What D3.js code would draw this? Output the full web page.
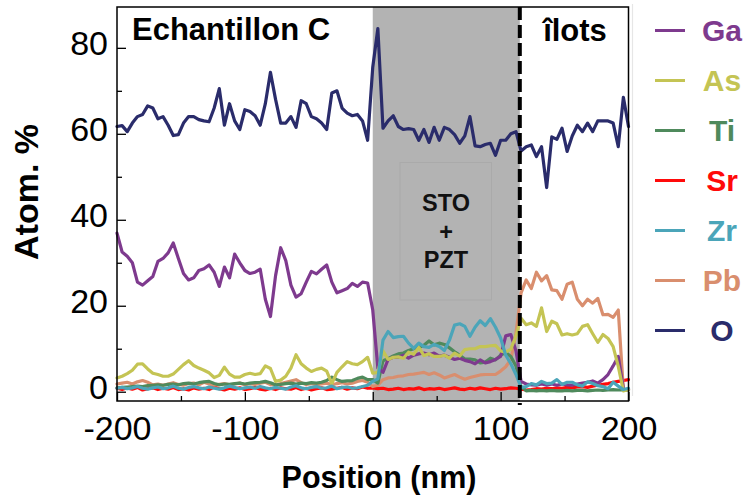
<!DOCTYPE html>
<html><head><meta charset="utf-8">
<script src="https://cdn.jsdelivr.net/npm/d3@7"></script>
<style>body{margin:0;background:#fff}svg{display:block}text{font-family:Arial,"Liberation Sans",sans-serif}</style>
</head><body><svg id="c" width="747" height="497"></svg>
<script>
// ---------- data ----------
const positions = [-200,-196,-192,-188,-184,-180,-176,-172,-168,-164,-160,-156,-152,-148,-144,-140,-136,-132,-128,-124,-120,-116,-112,-108,-104,-100,-96,-92,-88,-84,-80,-76,-72,-68,-64,-60,-56,-52,-48,-44,-40,-36,-32,-28,-24,-20,-16,-12,-8,-4,
0,4,8,12,16,20,24,28,32,36,40,44,48,52,56,60,64,68,72,76,80,84,88,92,96,100,104,108,112,
116,120,124,128,132,136,140,144,148,152,156,160,164,168,172,176,180,184,188,192,196,200];

const Ga = [36.9,32.5,31.5,30,25.5,24.8,25.8,26.8,30.3,31,32.3,34.6,31,27.5,26,26.5,28.2,28.6,29.5,27.8,24.5,29,26.5,32,30,28.2,27.5,27.8,28.5,21.5,17.5,27,33.5,30.5,24.8,22,22.8,25.5,28,27.4,28.5,29.5,25.5,23,23.5,24,25.2,24.5,25.5,25.3,
19,5.5,4.5,7.5,8,8,8.5,7.8,8.5,8.8,9,8.6,9,8.3,8.5,8,7.5,7.8,7.3,7,6.5,7.4,6.7,7,7.5,8.2,13,13.3,9.5,
2.4,1.8,1.6,1.5,1.8,1.5,1.8,1.5,1.8,1.6,1.5,1.8,2,2.2,2.5,2,2.8,4,6,8.2,0.8,0.5];

const As = [3.2,3.6,4.2,5,6.4,6.5,5.3,4.3,4,3.6,3.6,4.1,5.2,6.3,7.2,6.1,5.5,5,4.4,3.3,3.8,5.7,4.1,3.4,3.4,4,4.3,4,4.2,6,5.4,2.4,2.7,3.6,5.5,8.6,6.5,5.5,4.7,5.2,5.5,4.8,1.9,4.5,5.8,7,6.5,6.3,7,8,
4.3,4.5,9.5,7.5,8,8.1,7.8,9.2,8.7,10.3,8.4,8.8,8.2,8.2,8.5,7.8,9,8.3,9.8,10,10,10.5,10.5,10.7,10.8,9.5,9.2,9.9,13,
17.1,15.6,16,15.2,19.5,14,16.4,15.8,13.2,13.5,13.2,13.5,15.2,15.6,13.5,11.5,13.3,12.4,10.5,5.9,0.2,0.5];

const Ti = [0.9,1,1.1,1.2,1.3,1.2,1.4,1.5,1.6,1.5,1.7,1.8,1.6,1.9,2,1.8,2.1,2.3,2.4,1.9,1.6,1.8,1.7,1.9,2,1.8,2,2.1,2.2,2.4,2.1,1.6,1.7,1.9,2,1.8,2,1.9,2.1,2,2.2,2.6,3.4,2.8,2.4,2.5,2.6,3.1,3.4,2.8,
2.8,2,7.2,7.7,8.3,8.8,9,9.6,10,10.3,10.8,11.8,10.9,11.3,11,10.2,9.3,8.5,7.6,7.6,7.4,6.7,6.9,7.8,7.4,8.5,9.1,8.2,6,
1.2,0.2,0.3,0.2,0.3,0.2,0.3,0.2,0.2,0.3,0.2,0.3,0.3,0.2,0.3,0.4,0.3,0.4,0.5,0.4,0.5,0.4];

const Sr = [0.8,0.5,0.9,0.6,1,0.4,0.7,0.9,0.5,0.8,0.6,1,0.5,0.7,0.4,0.9,0.6,0.8,0.5,1.1,0.7,0.4,0.8,0.6,0.9,0.5,0.7,1,0.6,0.4,0.8,0.5,0.9,0.7,0.6,1,0.5,0.8,0.4,0.7,0.9,0.5,0.6,0.8,1,0.6,0.9,0.7,1.1,0.8,
0.9,0.7,0.8,0.5,0.6,0.8,0.5,0.7,0.6,0.9,0.5,0.7,0.6,0.8,0.5,0.7,0.9,0.6,0.5,0.8,0.6,0.9,0.7,0.5,0.8,0.6,0.7,0.9,0.8,
0.6,0.4,0.5,0.7,0.6,0.8,0.7,0.9,0.8,1,0.9,1.1,1.2,1,1.3,1.5,1.7,1.9,2.2,2.4,2.6,2.8];

const Zr = [0.8,1,0.7,0.9,1.2,0.8,0.6,0.9,1.1,0.7,0.9,1.3,0.8,0.6,1,1.2,0.9,0.7,1.1,0.8,0.6,0.9,1.3,1,0.7,0.9,1.1,0.8,1.2,0.9,0.7,1,0.8,0.6,1.1,1.4,0.9,0.7,1,1.2,0.8,0.9,1.3,0.7,1,1.1,0.8,0.9,1.2,1.5,
2.4,3,12,14,12.6,12.8,12.9,11.3,10.1,11.3,10.5,10.3,11,10.5,9.6,12,15.5,15.8,15.2,12.9,15,16.5,15.4,17,15,12.5,8.5,6.5,4,
1,1.2,1.9,1.6,2.4,1.9,2,2.8,1.7,2.2,2.2,1.6,1.3,2.3,1.9,1.4,1.2,0.7,2.2,1.3,0.5,0.8];

const Pb = [1.8,2,2.2,1.8,2.3,2.6,2.2,1.6,1.8,1.5,1.8,2.1,1.7,1.5,1.9,2,1.6,2.2,1.8,1.5,1.7,1.9,1.6,1.8,2,1.6,1.9,1.7,2,2.2,1.7,1.5,1.9,2.2,2.5,2.8,2.1,1.7,1.9,1.6,1.8,2,1.6,1.9,2.1,1.8,2,2.4,2.6,2.2,
1.2,1.5,2.8,3.2,3.3,3.6,3.7,4,4.1,4.3,4.5,4,4.4,3.9,3.2,3.6,4,3.4,2.9,3.3,3.6,3.9,4,4,4,4.8,5.8,7.5,13.6,
23,26,24,27.8,25.8,27,23.7,23.5,21.5,25,25.5,21.5,20,21.5,20.6,21.7,17.9,18,17.3,19,0.3,0.5];

const O = [61.7,61.9,60.5,62.5,64,64.5,66.5,66,63.5,64,62,59.6,59.8,62.5,64,64,63.3,63,62.8,66,70.5,62,67,63,61,65.6,65.2,64.2,62,67,74.3,68,62.5,62.5,64,61.5,67.7,67,64,63.5,62.5,61,69.5,70,66,64.8,64.2,64.5,63,58.5,
75.5,84.5,61.3,63,64.2,61.7,61,61.2,61,58.5,61,58,61.5,58.5,61.5,61,59.8,57.8,59.5,64,57.2,57,57.5,57.8,55,58.5,58.5,60,60.5,
56,57,57.4,54.7,57,47.5,59.3,58.7,61.3,55.9,59.5,62,60.5,62.5,60.5,63,63,63,62.5,57,68.5,61.7];

const seriesNames  = ["Ga","As","Ti","Sr","Zr","Pb","O"];
const seriesValues = [Ga, As, Ti, Sr, Zr, Pb, O];
const seriesColors = ["#7e3a8e","#c4c454","#4f8a5c","#ff0a0a","#4ba5b9","#d98e6e","#2a2c6b"];
const drawOrder    = ["Sr","Pb","Ti","Ga","As","Zr","O"];

const xTicks = [-200,-100,0,100,200];
const xMinorTicks = [-150,-50,50,150];
const yTicks = [0,20,40,60,80];
const yMinorTicks = [10,30,50,70];
const regionStart = 0, regionEnd = 115;   // STO + PZT zone, interface at 115 nm

const title = "Echantillon C";
const islandLabel = "îlots";
const zoneLabel = ["STO","+","PZT"];
const xTitle = "Position (nm)";
const yTitle = "Atom. %";

// ---------- drawing ----------
const svg = d3.select("#c");
const L = 117, R = 628.5, T = 7, B = 401;
const x = d3.scaleLinear().domain([-200,200]).range([L,R]);
const y = d3.scaleLinear().domain([-2.16,89.5]).range([B,T]);

// shaded region
svg.append("rect").attr("x",x(regionStart)).attr("y",T)
  .attr("width",x(regionEnd)-x(regionStart)).attr("height",B-T).attr("fill","#b3b3b3");

// inner label box
svg.append("rect").attr("x",400).attr("y",162.5).attr("width",91.5).attr("height",137.5)
  .attr("fill","none").attr("stroke","#a9a9a9").attr("stroke-width",0.8);
svg.append("g").selectAll("text").data(zoneLabel).join("text")
  .attr("x",446).attr("y",(d,i)=>211+i*28.6).attr("text-anchor","middle")
  .attr("font-size",23.5).attr("font-weight","bold").attr("fill","#111").text(d=>d);

// faint separator left of legend
svg.append("line").attr("x1",632.5).attr("x2",632.5).attr("y1",4).attr("y2",396)
  .attr("stroke","#e6e6e6").attr("stroke-width",1.2);

// series lines
const line = d3.line().x((d,i)=>x(positions[i])).y(d=>y(d));
drawOrder.forEach(name=>{
  const k = seriesNames.indexOf(name);
  svg.append("path").datum(seriesValues[k]).attr("d",line)
    .attr("fill","none").attr("stroke",seriesColors[k]).attr("stroke-width",3.2)
    .attr("stroke-linejoin","round").attr("stroke-linecap","round");
});

// interface dashed line
svg.append("line").attr("x1",x(regionEnd)).attr("x2",x(regionEnd)).attr("y1",T).attr("y2",B+4)
  .attr("stroke","#000").attr("stroke-width",4).attr("stroke-dasharray","13,5");

// frame
svg.append("rect").attr("x",L).attr("y",T).attr("width",R-L).attr("height",B-T)
  .attr("fill","none").attr("stroke","#000").attr("stroke-width",1.5);

// axes
const fs = 34;
const fmt = d => String(d);
const xAxis = svg.append("g").attr("transform",`translate(0,${B})`)
  .call(d3.axisBottom(x).tickValues(xTicks).tickSizeInner(-9).tickSizeOuter(0).tickPadding(15).tickFormat(fmt));
xAxis.select(".domain").remove();
xAxis.selectAll("text").attr("font-size",fs).attr("fill","#000").style("font-family","Arial, 'Liberation Sans', sans-serif");
xAxis.selectAll("line").attr("stroke","#000").attr("stroke-width",1.3);
const xAxisMinor = svg.append("g").attr("transform",`translate(0,${B})`)
  .call(d3.axisBottom(x).tickValues(xMinorTicks).tickSizeInner(-5).tickSizeOuter(0).tickFormat(""));
xAxisMinor.select(".domain").remove();
xAxisMinor.selectAll("line").attr("stroke","#000").attr("stroke-width",1.3);

const yAxis = svg.append("g").attr("transform",`translate(${L},0)`)
  .call(d3.axisLeft(y).tickValues(yTicks).tickSizeInner(-9).tickSizeOuter(0).tickPadding(9).tickFormat(fmt));
yAxis.select(".domain").remove();
yAxis.selectAll("text").attr("font-size",fs).attr("fill","#000").attr("dy","0.2em").style("font-family","Arial, 'Liberation Sans', sans-serif");
yAxis.selectAll("line").attr("stroke","#000").attr("stroke-width",1.3);
const yAxisMinor = svg.append("g").attr("transform",`translate(${L},0)`)
  .call(d3.axisLeft(y).tickValues(yMinorTicks).tickSizeInner(-5).tickSizeOuter(0).tickFormat(""));
yAxisMinor.select(".domain").remove();
yAxisMinor.selectAll("line").attr("stroke","#000").attr("stroke-width",1.3);

// titles
svg.append("text").attr("x",379).attr("y",488).attr("text-anchor","middle")
  .attr("font-size",30.5).attr("font-weight","bold").text(xTitle);
svg.append("text").attr("transform","translate(38,192) rotate(-90)").attr("text-anchor","middle")
  .attr("font-size",34).attr("font-weight","bold").text(yTitle);
svg.append("text").attr("x",132).attr("y",40).attr("font-size",31).attr("font-weight","bold").text(title);
svg.append("text").attr("x",575).attr("y",41).attr("text-anchor","middle")
  .attr("font-size",31).attr("font-weight","bold").text(islandLabel);

// legend
const lg = svg.append("g");
seriesNames.forEach((name,i)=>{
  const cy = 30.5 + i*50;
  lg.append("line").attr("x1",655).attr("x2",685).attr("y1",cy).attr("y2",cy)
    .attr("stroke",seriesColors[i]).attr("stroke-width",3);
  lg.append("text").attr("x",722).attr("y",cy).attr("dy","0.36em").attr("text-anchor","middle")
    .attr("font-size",30).attr("font-weight","bold").attr("fill",seriesColors[i]).text(name);
});
</script></body></html>
